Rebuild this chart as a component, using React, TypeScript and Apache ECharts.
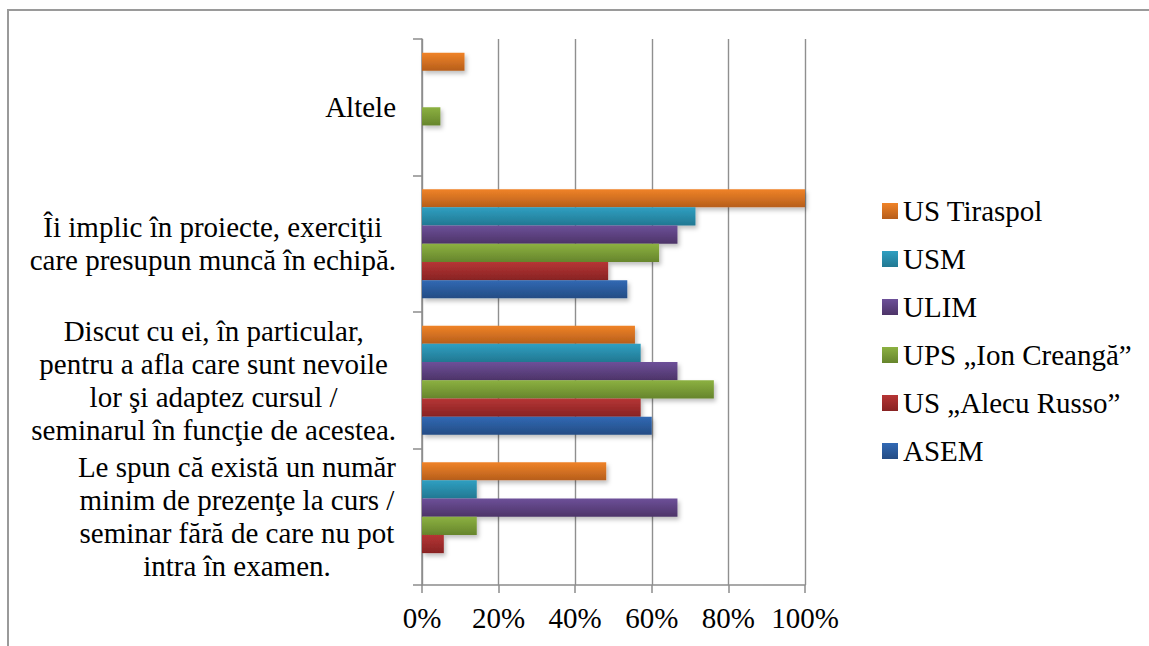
import React, { useEffect, useRef } from "react";
import * as echarts from "echarts";

const categories: string[][] = [
  ["Le spun că există un număr", "minim de prezenţe la curs /", "seminar fără de care nu pot", "intra în examen."],
  ["Discut cu ei, în particular,", "pentru a afla care sunt nevoile", "lor şi adaptez cursul /", "seminarul în funcţie de acestea."],
  ["Îi implic în proiecte, exerciţii", "care presupun muncă în echipă."],
  ["Altele"],
];

const seriesNames = ["ASEM", "US „Alecu Russo”", "UPS „Ion Creangă”", "ULIM", "USM", "US Tiraspol"];

const asem = [0, 60, 53.6, 0];
const alecuRusso = [5.7, 57.1, 48.6, 0];
const ionCreanga = [14.3, 76.2, 61.9, 4.8];
const ulim = [66.7, 66.7, 66.7, 0];
const usm = [14.3, 57.1, 71.4, 0];
const tiraspol = [48.1, 55.6, 100, 11.1];

const xTicks = [0, 20, 40, 60, 80, 100];

const seriesValues = [asem, alecuRusso, ionCreanga, ulim, usm, tiraspol];
const gradients: [string, string][] = [
  ["#3169b4", "#244c84"],
  ["#b63535", "#882323"],
  ["#8cb141", "#66852c"],
  ["#6d5099", "#4d3468"],
  ["#2f9fc1", "#227892"],
  ["#f08327", "#b65e1c"],
];

const FONT = "Times New Roman, serif";
const FS = 29;

export default function App() {
  const ref = useRef<HTMLDivElement>(null);
  useEffect(() => {
    if (!ref.current) return;
    const chart = echarts.init(ref.current, undefined, { renderer: "svg" });
    const rich: Record<string, any> = {
      c: { align: "center", fontSize: FS, lineHeight: 33, fontFamily: FONT, color: "#000" },
    };
    // ECharts stacks horizontal bar series top-to-bottom, so feed them reversed
    const order = [5, 4, 3, 2, 1, 0];
    chart.setOption({
      animation: false,
      backgroundColor: "#fff",
      textStyle: { fontFamily: FONT },
      grid: { left: 422, right: 344, top: 39, bottom: 61 },
      legend: {
        orient: "vertical",
        left: 877,
        top: 190,
        itemWidth: 16,
        itemHeight: 16,
        itemGap: 16,
        icon: "rect",
        data: [...seriesNames].reverse(),
        textStyle: { fontSize: FS, lineHeight: 32, fontFamily: FONT, color: "#000" },
      },
      xAxis: {
        type: "value",
        min: 0,
        max: 100,
        interval: 20,
        axisLine: { show: true, lineStyle: { color: "#8c8c8c", width: 1.5 } },
        axisTick: { show: true, length: 8, lineStyle: { color: "#8c8c8c", width: 1.5 } },
        splitLine: { show: true, lineStyle: { color: "#8f8f8f", width: 1.4 } },
        axisLabel: {
          formatter: (v: number) => (xTicks.includes(v) ? v + "%" : ""),
          fontSize: FS,
          fontFamily: FONT,
          color: "#000",
          margin: 18,
        },
      },
      yAxis: {
        type: "category",
        data: categories.map((c) => c.join("\n")),
        axisLine: { show: true, lineStyle: { color: "#8c8c8c", width: 1.5 } },
        axisTick: { show: true, length: 9, lineStyle: { color: "#8c8c8c", width: 1.5 } },
        axisLabel: {
          interval: 0,
          margin: 26,
          align: "right",
          formatter: (v: string) => v.split("\n").map((l) => "{c|" + l + "}").join("\n"),
          rich,
          fontSize: FS,
          lineHeight: 33,
          fontFamily: FONT,
          color: "#000",
        },
      },
      graphic: [
        {
          type: "polyline",
          shape: { points: [[8, 646], [8, 10], [1149, 10]] },
          style: { stroke: "#9a9a9a", lineWidth: 2, fill: "none" },
          silent: true,
        },
      ],
      series: order.map((i) => ({
        name: seriesNames[i],
        type: "bar",
        data: seriesValues[i],
        barGap: "0%",
        barCategoryGap: "20%",
        itemStyle: {
          color: new echarts.graphic.LinearGradient(0, 0, 0, 1, [
            { offset: 0, color: gradients[i][0] },
            { offset: 1, color: gradients[i][1] },
          ]),
          shadowBlur: 4,
          shadowOffsetX: 2,
          shadowOffsetY: 3,
          shadowColor: "rgba(0,0,0,0.25)",
        },
      })),
    });
    return () => chart.dispose();
  }, []);
  return (
    <div
      ref={ref}
      style={{ position: "fixed", left: 0, top: 0, width: 1149, height: 646, background: "#fff" }}
    />
  );
}
